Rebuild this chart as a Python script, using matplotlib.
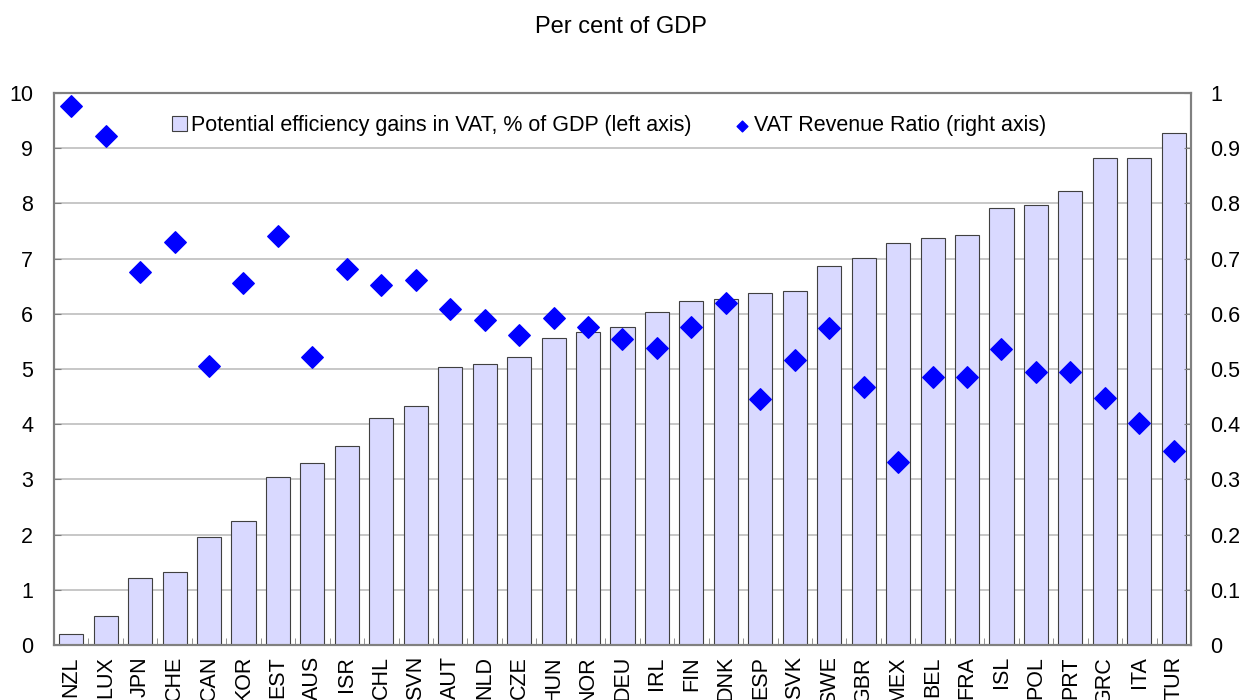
import numpy as np
import matplotlib.pyplot as plt

plt.rcParams['font.family'] = ['Liberation Sans', 'DejaVu Sans']

countries = ['NZL', 'LUX', 'JPN', 'CHE', 'CAN', 'KOR', 'EST', 'AUS', 'ISR', 'CHL', 'SVN',
             'AUT', 'NLD', 'CZE', 'HUN', 'NOR', 'DEU', 'IRL', 'FIN', 'DNK', 'ESP', 'SVK',
             'SWE', 'GBR', 'MEX', 'BEL', 'FRA', 'ISL', 'POL', 'PRT', 'GRC', 'ITA', 'TUR']

# potential efficiency gains in VAT, % of GDP (left axis)
gains = [0.20, 0.52, 1.22, 1.32, 1.96, 2.25, 3.04, 3.30, 3.61, 4.12, 4.33,
         5.03, 5.10, 5.22, 5.57, 5.68, 5.77, 6.04, 6.23, 6.27, 6.38, 6.42,
         6.87, 7.02, 7.29, 7.38, 7.42, 7.92, 7.97, 8.22, 8.82, 8.83, 9.28]

# VAT revenue ratio (right axis)
vrr = [0.977, 0.922, 0.676, 0.731, 0.506, 0.656, 0.741, 0.521, 0.682, 0.653, 0.662,
       0.608, 0.588, 0.561, 0.593, 0.577, 0.555, 0.539, 0.577, 0.620, 0.445, 0.517,
       0.575, 0.468, 0.331, 0.485, 0.486, 0.537, 0.495, 0.495, 0.447, 0.403, 0.351]

x = np.arange(len(countries))
fs = 15.5

fig = plt.figure(figsize=(12.41, 7), dpi=100)
ax = fig.add_axes([0.0435, 0.0786, 0.9162, 0.7884])

ax.yaxis.grid(True, color='#BEBEBE', linewidth=1.2)
ax.set_axisbelow(True)
ax.bar(x, gains, width=0.7, color='#D9D9FF', edgecolor='#404040', linewidth=0.8,
       label='Potential efficiency gains in VAT, % of GDP (left axis)', zorder=2)
ax.set_xlim(-0.5, len(countries) - 0.5)
ax.set_ylim(0, 10)
ax.set_yticks(range(0, 11))
ax.set_xticks(x)
ax.set_xticklabels(countries, rotation=90, fontsize=fs)
ax.set_xticks(np.arange(-0.5, len(countries)), minor=True)
ax.tick_params(axis='x', which='major', length=0, pad=8)
ax.tick_params(axis='x', which='minor', direction='in', length=5, color='#808080')
ax.tick_params(axis='y', direction='in', length=5, color='#808080', labelsize=fs, pad=15)

ax2 = ax.twinx()
ax2.scatter(x, vrr, marker='D', s=120, color='#0000FF', zorder=3,
            label='VAT Revenue Ratio (right axis)')
ax2.set_ylim(0, 1)
ax2.set_yticks(np.arange(0, 1.01, 0.1))
ax2.set_yticklabels(['0', '0.1', '0.2', '0.3', '0.4', '0.5', '0.6', '0.7', '0.8', '0.9', '1'])
ax2.tick_params(axis='y', direction='in', length=5, color='#808080', labelsize=fs, pad=14)

for a in (ax, ax2):
    for s in a.spines.values():
        s.set_color('#808080')
        s.set_linewidth(1.5)

h1, l1 = ax.get_legend_handles_labels()
h2, l2 = ax2.get_legend_handles_labels()
ax2.legend(h1 + h2, l1 + l2, loc='upper center', bbox_to_anchor=(0.488, 0.995), ncol=2,
           frameon=False, fontsize=fs, handlelength=0.7, handletextpad=0.2,
           columnspacing=2.0, markerscale=0.5)

fig.text(0.5, 0.961, 'Per cent of GDP', ha='center', va='center', fontsize=17)

fig.savefig('out.png', dpi=100)
